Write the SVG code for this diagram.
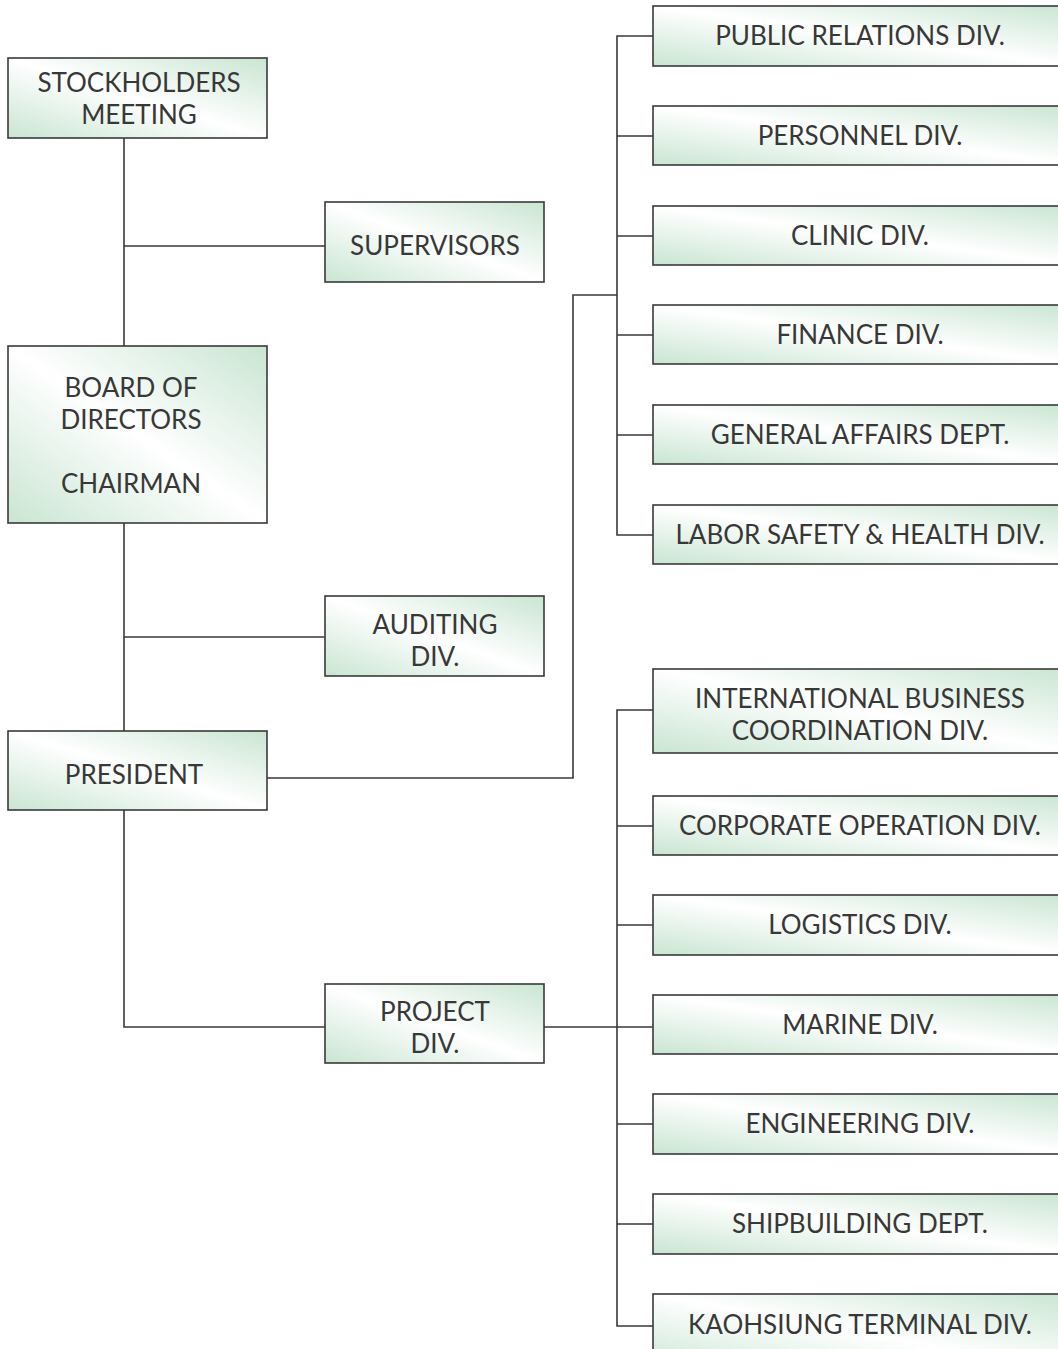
<svg xmlns="http://www.w3.org/2000/svg" width="1058" height="1349" viewBox="0 0 1058 1349">
<defs>
<linearGradient id="g" x1="1" y1="0" x2="0" y2="1">
<stop offset="0" stop-color="#c9e5d2"/>
<stop offset="0.5" stop-color="#ffffff"/>
<stop offset="1" stop-color="#c9e5d2"/>
</linearGradient>
</defs>
<style>
.b{fill:url(#g);stroke:#3a3a3a;stroke-width:1.6}
.t{font-family:Lato,"Liberation Sans",sans-serif;font-size:26px;fill:#383838;text-anchor:middle}
.c{fill:none;stroke:#3a3a3a;stroke-width:1.6}
</style>
<rect width="1058" height="1349" fill="#fff"/>
<g id="connectors" class="c">
<path d="M124 138V346M124 246H325M124 523V731M124 637H325M124 810V1027H325M544 1027H653"/>
<path d="M267 778H573V295H617"/>
<path d="M653 36H617V535H653M617 136H653M617 236H653M617 335H653M617 435H653"/>
<path d="M653 710H617V1326H653M617 826H653M617 925H653M617 1124H653M617 1224H653"/>
</g>
<g id="stockholders"><rect class="b" x="8" y="58" width="259" height="80"/><text class="t" x="139" y="92">STOCKHOLDERS</text><text class="t" x="139" y="124">MEETING</text></g>
<g id="supervisors"><rect class="b" x="325" y="202" width="219" height="80"/><text class="t" x="435" y="255">SUPERVISORS</text></g>
<g id="board"><rect class="b" x="8" y="346" width="259" height="177"/><text class="t" x="131" y="397">BOARD OF</text><text class="t" x="131" y="429">DIRECTORS</text><text class="t" x="131" y="493">CHAIRMAN</text></g>
<g id="auditing"><rect class="b" x="325" y="596" width="219" height="80"/><text class="t" x="435" y="634">AUDITING</text><text class="t" x="435" y="666">DIV.</text></g>
<g id="president"><rect class="b" x="8" y="731" width="259" height="79"/><text class="t" x="134" y="784">PRESIDENT</text></g>
<g id="project"><rect class="b" x="325" y="984" width="219" height="79"/><text class="t" x="435" y="1021">PROJECT</text><text class="t" x="435" y="1053">DIV.</text></g>
<g id="public-relations"><rect class="b" x="653" y="6" width="420" height="60"/><text class="t" x="860" y="45">PUBLIC RELATIONS DIV.</text></g>
<g id="personnel"><rect class="b" x="653" y="106" width="420" height="59"/><text class="t" x="860" y="145">PERSONNEL DIV.</text></g>
<g id="clinic"><rect class="b" x="653" y="206" width="420" height="59"/><text class="t" x="860" y="245">CLINIC DIV.</text></g>
<g id="finance"><rect class="b" x="653" y="305" width="420" height="59"/><text class="t" x="860" y="344">FINANCE DIV.</text></g>
<g id="general-affairs"><rect class="b" x="653" y="405" width="420" height="59"/><text class="t" x="860" y="444">GENERAL AFFAIRS DEPT.</text></g>
<g id="labor-safety"><rect class="b" x="653" y="505" width="420" height="59"/><text class="t" x="860" y="544">LABOR SAFETY &amp; HEALTH DIV.</text></g>
<g id="international"><rect class="b" x="653" y="669" width="420" height="84"/><text class="t" x="860" y="708">INTERNATIONAL BUSINESS</text><text class="t" x="860" y="740">COORDINATION DIV.</text></g>
<g id="corporate"><rect class="b" x="653" y="796" width="420" height="59"/><text class="t" x="860" y="835">CORPORATE OPERATION DIV.</text></g>
<g id="logistics"><rect class="b" x="653" y="895" width="420" height="60"/><text class="t" x="860" y="934">LOGISTICS DIV.</text></g>
<g id="marine"><rect class="b" x="653" y="995" width="420" height="59"/><text class="t" x="860" y="1034">MARINE DIV.</text></g>
<g id="engineering"><rect class="b" x="653" y="1094" width="420" height="60"/><text class="t" x="860" y="1133">ENGINEERING DIV.</text></g>
<g id="shipbuilding"><rect class="b" x="653" y="1194" width="420" height="60"/><text class="t" x="860" y="1233">SHIPBUILDING DEPT.</text></g>
<g id="kaohsiung"><rect class="b" x="653" y="1294" width="420" height="80"/><text class="t" x="860" y="1334">KAOHSIUNG TERMINAL DIV.</text></g>
</svg>
